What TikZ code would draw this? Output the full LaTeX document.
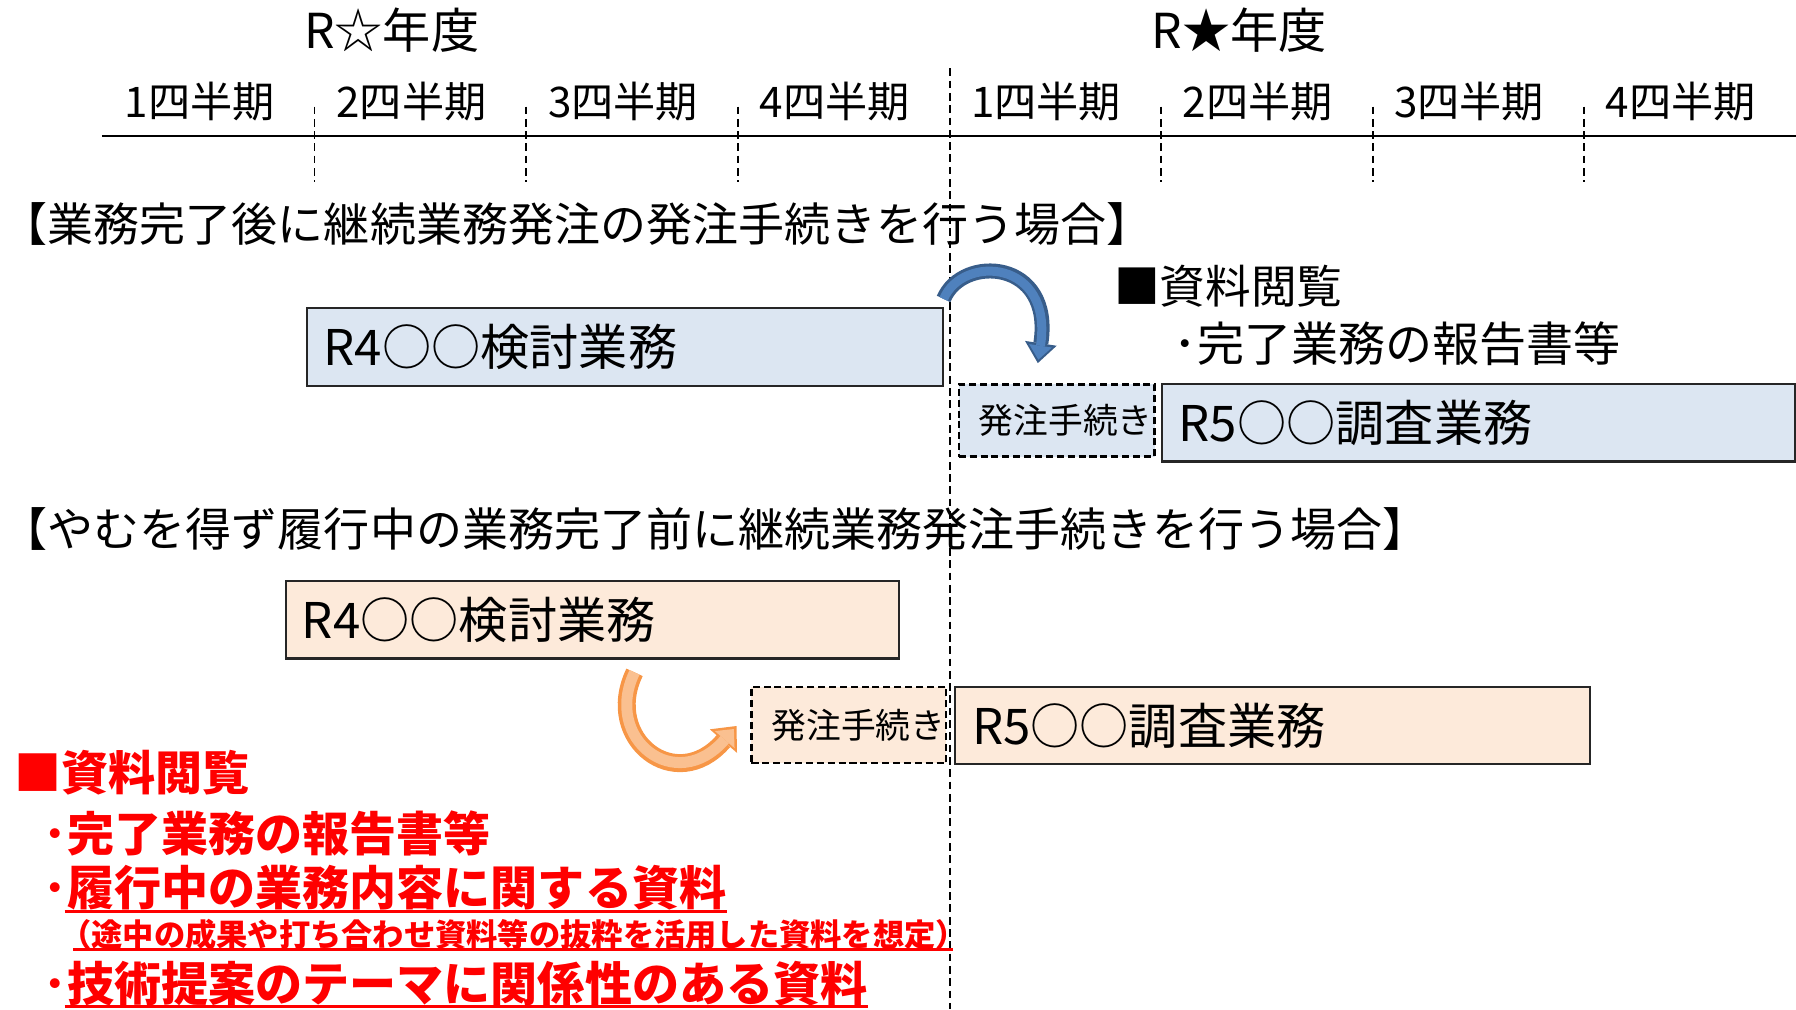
\documentclass[tikz,border=0pt]{standalone}
\usepackage{fontspec}
\setmainfont{Noto Sans CJK JP}
\usetikzlibrary{arrows.meta}

\definecolor{boxblue}{HTML}{DCE6F2}
\definecolor{boxpeach}{HTML}{FDEADA}
\definecolor{arrblue}{HTML}{4F81BD}
\definecolor{arrblueedge}{HTML}{385D8A}
\definecolor{arrorange}{HTML}{FAC090}
\definecolor{arrorangeedge}{HTML}{F79646}
\def\pxu{0.011454cm}

\begin{document}
\begin{tikzpicture}[x=0.011454cm, y=-0.011454cm,
	year/.style={inner sep=0pt, font=\fontsize{13.7pt}{16pt}\selectfont},
	qtr/.style={inner sep=0pt, font=\fontsize{12pt}{14pt}\selectfont},
	head/.style={anchor=west, inner sep=0pt, font=\fontsize{13.1pt}{16pt}\selectfont},
	task/.style={draw=black!85, line width=0.6pt, anchor=north west, inner sep=0pt},
	tasktext/.style={anchor=west, inner sep=0pt, font=\fontsize{14pt}{16pt}\selectfont},
	order/.style={draw, dash pattern=on 2pt off 1.1pt, line width=0.7pt, anchor=north west, inner sep=0pt},
	ordertext/.style={anchor=west, inner sep=0pt, font=\fontsize{9.9pt}{12pt}\selectfont},
	tick/.style={dash pattern=on 2.2pt off 1.3pt, line width=0.5pt},
	memo/.style={anchor=west, inner sep=0pt, font=\fontsize{13.4pt}{16pt}\selectfont},
	redmemo/.style={anchor=west, inner sep=0pt, text=red, font=\fontsize{13.4pt}{16pt}\selectfont\bfseries},
	uline/.style={red, line width=0.8pt}
]
		\useasboundingbox (0,0) rectangle (1568,881);

		% time axis
		\node[year] (nendoA) at (342,26) {R☆年度};
		\node[year] (nendoB) at (1082,26) {R★年度};
		\foreach \q [count=\i from 0] in {1,2,3,4,1,2,3,4}
			\node[qtr] (q\i) at (174.5+184.7*\i,89) {\q{}四半期};
		\draw[line width=0.7pt] (89,118.7) -- (1568,118.7);
		\foreach \x in {274.6,459,644,1013.8,1198.9,1383}
			\draw[tick] (\x,93) -- (\x,158.6);
		\draw[tick] (829.2,59.7) -- (829.2,881);

		% case 1
		\node[head] (caseA) at (1,196) {【業務完了後に継続業務発注の発注手続きを行う場合】};
		\node[task, fill=boxblue, minimum width=555*\pxu, minimum height=68*\pxu] (kentoA) at (267,268) {};
		\node[tasktext] at ([shift={(15,0)}]kentoA.west) {R4○○検討業務};
		\node[order, fill=boxblue, minimum width=171*\pxu, minimum height=63*\pxu] (hatchuA) at (836,334.5) {};
		\node[ordertext] at ([shift={(18,0)}]hatchuA.west) {発注手続き};
		\node[task, fill=boxblue, minimum width=552.5*\pxu, minimum height=67.5*\pxu] (chosaA) at (1013.5,334.5) {};
		\node[tasktext] at ([shift={(15,0)}]chosaA.west) {R5○○調査業務};
		\node[memo, font=\fontsize{13pt}{16pt}\selectfont] (mS) at (972,250) {■資料閲覧};
		\node[memo] (m2) at (1024,300) {･完了業務の報告書等};

		\draw[arrblueedge, line width=1.5mm, -{Triangle[width=3.2mm,length=2mm,line width=0pt]}]
			([shift={(0,-7)}]kentoA.north east) .. controls (840,222) and (920,226) .. ([shift={(-16.5,-17.5)}]hatchuA.north);
		\draw[arrblue, line width=0.9mm, shorten >=0.35mm, -{Triangle[width=2.3mm,length=1.4mm,line width=0pt]}]
			([shift={(0,-7)}]kentoA.north east) .. controls (840,222) and (920,226) .. ([shift={(-16.5,-17.5)}]hatchuA.north);

		% case 2
		\node[head] (caseB) at (1,462) {【やむを得ず履行中の業務完了前に継続業務発注手続きを行う場合】};
		\node[task, fill=boxpeach, minimum width=535*\pxu, minimum height=68*\pxu] (kentoB) at (249,506) {};
		\node[tasktext] at ([shift={(14,0)}]kentoB.west) {R4○○検討業務};
		\node[order, fill=boxpeach, minimum width=170*\pxu, minimum height=66.5*\pxu] (hatchuB) at (655,598.5) {};
		\node[ordertext] at ([shift={(18,0)}]hatchuB.west) {発注手続き};
		\node[task, fill=boxpeach, minimum width=554*\pxu, minimum height=67*\pxu] (chosaB) at (833,599) {};
		\node[tasktext] at ([shift={(15,0)}]chosaB.west) {R5○○調査業務};

		\coordinate (oS) at (554,587);
		\draw[arrorangeedge, line width=1.8mm, -{Triangle[width=3.6mm,length=2mm,line width=0pt]}]
			(oS) .. controls (526,645) and (590,695) .. ([shift={(-12,1)}]hatchuB.west);
		\draw[arrorange, line width=1.1mm, shorten >=0.4mm, -{Triangle[width=2.6mm,length=1.4mm,line width=0pt]}]
			(oS) .. controls (526,645) and (590,695) .. ([shift={(-12,1)}]hatchuB.west);

		% red notes
		\node[redmemo] (rS) at (12,674.5) {■資料閲覧};
		\node[redmemo] (r2) at (37.5,728) {･完了業務の報告書等};
		\node[redmemo] (r3) at (37.5,775) {･履行中の業務内容に関する資料};
		\node[redmemo, font=\fontsize{8.9pt}{11pt}\selectfont\bfseries] (r4) at (52,815.5) {（途中の成果や打ち合わせ資料等の抜粋を活用した資料を想定）};
		\node[redmemo] (r5) at (37.5,858.5) {･技術提案のテーマに関係性のある資料};
		\draw[uline] ([shift={(19,21)}]r3.west) -- ([shift={(0,21)}]r3.east);
		\draw[uline] ([shift={(12,13.3)}]r4.west) -- ([shift={(-13,13.3)}]r4.east);
		\draw[uline] ([shift={(19,20.3)}]r5.west) -- ([shift={(0,20.3)}]r5.east);
\end{tikzpicture}
\end{document}
